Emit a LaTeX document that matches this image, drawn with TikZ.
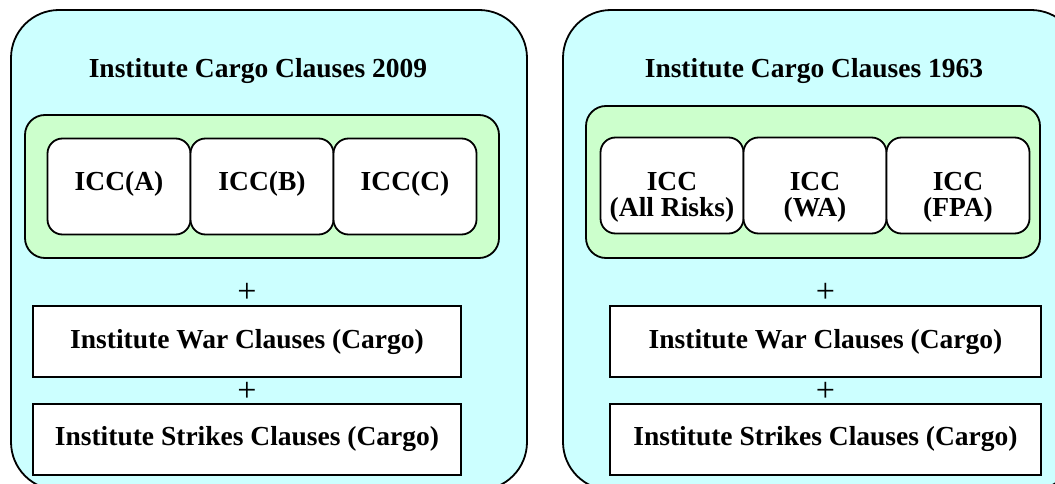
\documentclass[tikz,border=0pt]{standalone}
\usepackage{xcolor}
\usepackage{fontspec}
\setmainfont{Liberation Serif}
\usepackage{tikz}
\usetikzlibrary{positioning}
\definecolor{skyfill}{HTML}{CCFFFF}
\definecolor{mintfill}{HTML}{CCFFCC}
\tikzset{
  panel/.style={draw, line width=1.8pt, fill=skyfill, rounded corners=48pt},
  grp/.style={rectangle, draw, line width=1.8pt, fill=mintfill, rounded corners=20pt,
              inner sep=0pt, outer sep=0pt},
  icc/.style={rectangle, draw, line width=1.8pt, fill=white, rounded corners=15pt,
              minimum width=143pt, minimum height=96pt, align=center, inner sep=0pt,
              outer sep=0pt, text height=20pt, text depth=12pt,
              font=\bfseries\fontsize{27.5}{26}\selectfont},
  icctwo/.style={icc, text height=64pt, text depth=3pt},
  clause/.style={rectangle, draw, line width=1.8pt, fill=white, minimum height=71pt,
                 inner sep=0pt, font=\bfseries\fontsize{27.5}{33}\selectfont},
  ttl/.style={font=\bfseries\fontsize{27.5}{33}\selectfont, anchor=base},
  plussign/.style={inner sep=0pt, font=\fontsize{34}{34}\selectfont}
}

\begin{document}
\begin{tikzpicture}[x=1pt, y=-1pt, node distance=25pt]
  \useasboundingbox (0,0) rectangle (1055,484);
  \clip (0,0) rectangle (1055,484);
  \draw[panel] (11,10) rectangle (527,490);
  \draw[panel] (563,10) rectangle (1079,490);

  \node[ttl] (ttlA) at (258,78) {Institute Cargo Clauses 2009};
  \node[grp, minimum width=474pt, minimum height=143pt] (grpA) at (262,186.5) {};
  \node[icc] (iccA) at (119,186.5) {ICC(A)};
  \node[icc, right=0pt of iccA] (iccB) {ICC(B)};
  \node[icc, right=0pt of iccB] (iccC) {ICC(C)};
  \node[clause, minimum width=428pt] (warA) at (247,341.5) {Institute War Clauses (Cargo)};
  \node[clause, minimum width=428pt, below=of warA] (strA) {Institute Strikes Clauses (Cargo)};
  \node[plussign, above=2pt of warA] (plA1) {+};
  \node[plussign, below=4pt of warA] (plA2) {+};

  \node[ttl] (ttlB) at (814,78) {Institute Cargo Clauses 1963};
  \node[grp, minimum width=454pt, minimum height=152pt] (grpB) at (813,182) {};
  \node[icctwo] (iccAR) at (672,185.5) {ICC\\(All Risks)};
  \node[icctwo, right=0pt of iccAR] (iccWA) {ICC\\(WA)};
  \node[icctwo, right=0pt of iccWA] (iccFPA) {ICC\\(FPA)};
  \node[clause, minimum width=431pt] (warB) at (825.5,341.5) {Institute War Clauses (Cargo)};
  \node[clause, minimum width=431pt, below=of warB] (strB) {Institute Strikes Clauses (Cargo)};
  \node[plussign, above=2pt of warB] (plB1) {+};
  \node[plussign, below=4pt of warB] (plB2) {+};
\end{tikzpicture}
\end{document}
